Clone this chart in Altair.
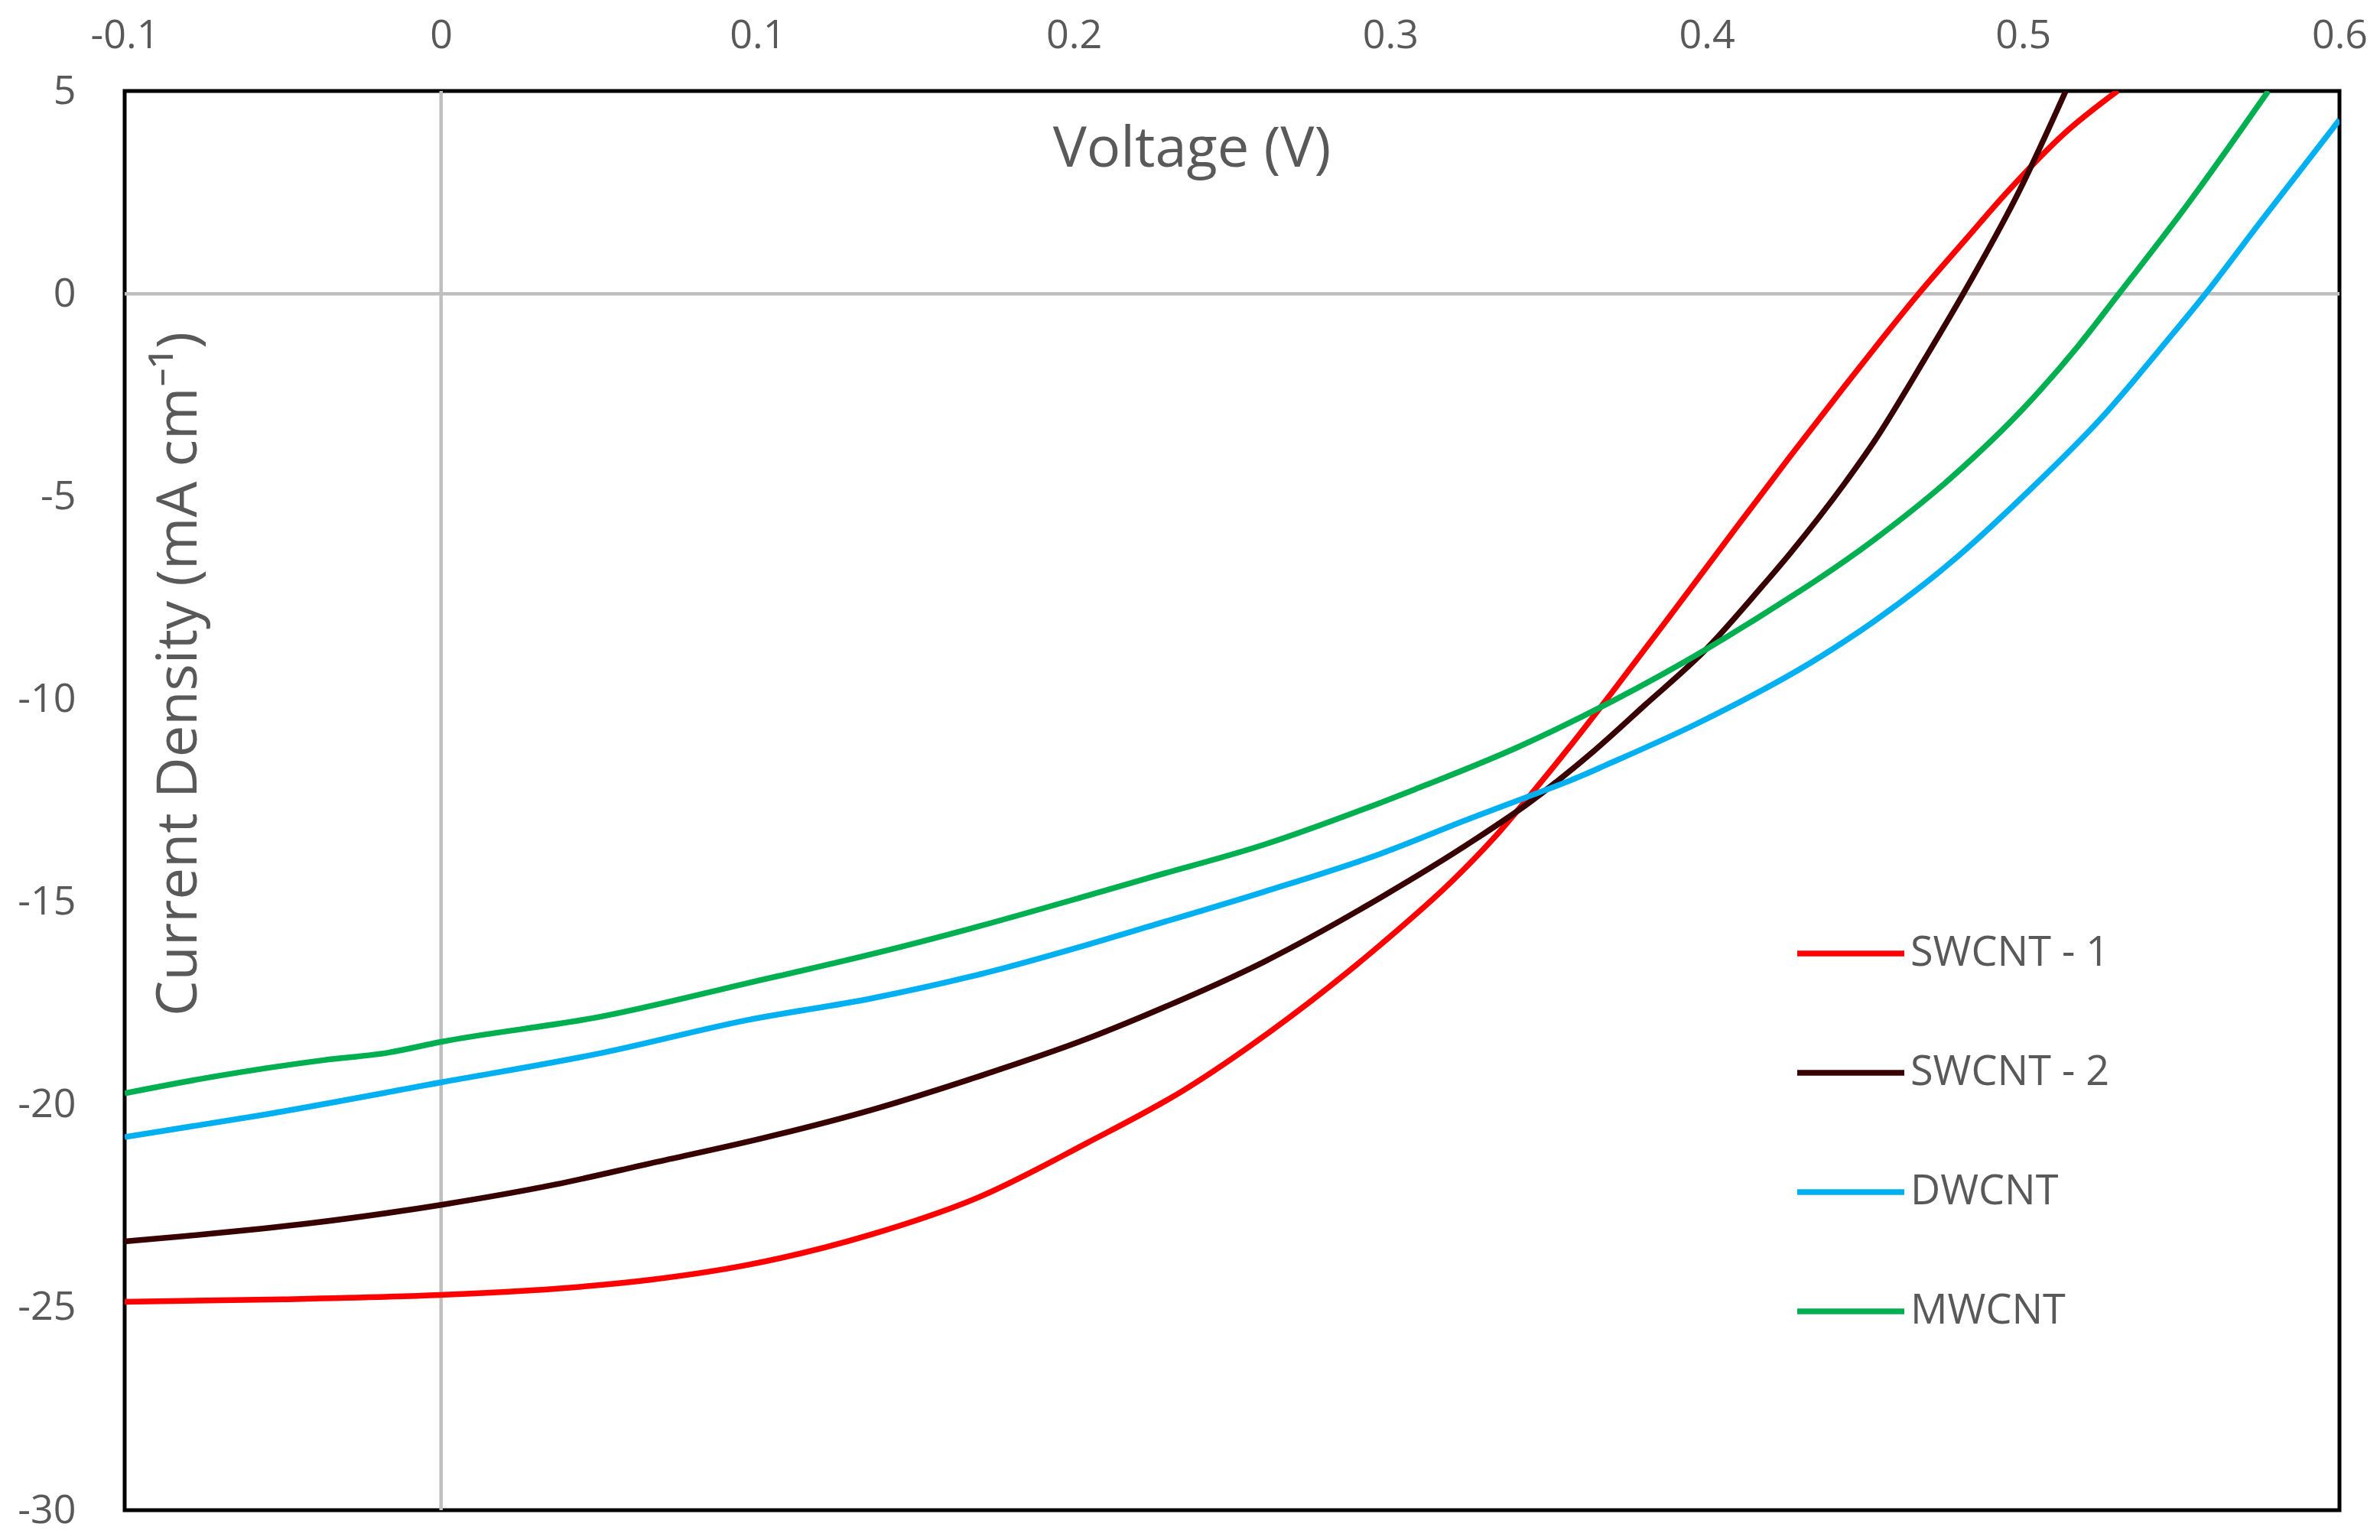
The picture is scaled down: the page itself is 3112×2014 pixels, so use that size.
import altair as alt
import pandas as pd

# ---- data (Voltage V, Current density mA cm^-1) ----
series_names = ["SWCNT - 1", "SWCNT - 2", "DWCNT", "MWCNT"]
series_colors = ["#FF0000", "#380000", "#00B0F0", "#00B050"]

sw1_v = [-0.1, -0.05, 0.0, 0.036, 0.066, 0.097, 0.136, 0.170, 0.204, 0.235, 0.262,
         0.297, 0.320, 0.333, 0.346, 0.356, 0.370, 0.388, 0.405, 0.4264, 0.4434,
         0.4531, 0.467, 0.482, 0.4943, 0.513, 0.530]
sw1_j = [-24.86, -24.80, -24.69, -24.54, -24.32, -23.95, -23.20, -22.28, -20.95, -19.63,
         -18.20, -16.05, -14.45, -13.40, -12.20, -11.24, -9.84, -7.99, -6.22, -4.01,
         -2.30, -1.34, 0.00, 1.35, 2.45, 3.95, 5.01]

sw2_v = [-0.1, -0.041, 0.0, 0.036, 0.066, 0.102, 0.136, 0.170, 0.204, 0.223, 0.260,
         0.297, 0.3264, 0.3441, 0.3643, 0.3804, 0.3998, 0.4166, 0.4264, 0.4434, 0.4529,
         0.469, 0.4811, 0.4989, 0.5135]
sw2_j = [-23.37, -22.92, -22.47, -21.97, -21.45, -20.82, -20.13, -19.30, -18.38, -17.78,
         -16.48, -14.89, -13.48, -12.54, -11.28, -10.15, -8.77, -7.30, -6.40, -4.70,
         -3.65, -1.60, 0.00, 2.55, 5.00]

dw_v = [-0.1, -0.057, 0.0, 0.051, 0.097, 0.136, 0.170, 0.204, 0.223, 0.260, 0.297,
        0.325, 0.343, 0.3586, 0.368, 0.397, 0.436, 0.4529, 0.4771, 0.5013, 0.5255,
        0.5456, 0.5577, 0.5745, 0.6]
dw_j = [-20.80, -20.26, -19.45, -18.72, -17.91, -17.38, -16.79, -16.06, -15.62, -14.75,
        -13.81, -12.95, -12.42, -11.95, -11.63, -10.60, -8.95, -8.08, -6.63, -4.90,
        -3.00, -1.15, 0.00, 1.72, 4.29]

mw_v = [-0.1, -0.072, -0.037, -0.017, 0.0, 0.051, 0.097, 0.136, 0.170, 0.204, 0.223,
        0.260, 0.297, 0.3079, 0.3401, 0.3699, 0.3998, 0.417, 0.4529, 0.4771, 0.5013,
        0.5174, 0.5303, 0.551, 0.5775]
mw_j = [-19.72, -19.31, -18.90, -18.72, -18.45, -17.82, -17.00, -16.29, -15.60, -14.85,
        -14.42, -13.59, -12.55, -12.22, -11.19, -10.06, -8.77, -7.95, -6.07, -4.55,
        -2.73, -1.29, 0.00, 2.10, 5.00]

x_ticks = [-0.1, 0.0, 0.1, 0.2, 0.3, 0.4, 0.5, 0.6]
y_ticks = [5, 0, -5, -10, -15, -20, -25, -30]
zero_x = [0.0]
zero_y = [0.0]

frames = []
for name, v, j in [(series_names[0], sw1_v, sw1_j), (series_names[1], sw2_v, sw2_j),
                   (series_names[2], dw_v, dw_j), (series_names[3], mw_v, mw_j)]:
    frames.append(pd.DataFrame({"V": v, "J": j, "series": name, "order": range(len(v))}))
df = pd.concat(frames, ignore_index=True)

GRAY_TXT = "#595959"
HYPHEN = "replace(datum.label, '\u2212', '-')"

x_scale = alt.Scale(domain=[-0.1, 0.6], nice=False, zero=False)
y_scale = alt.Scale(domain=[-30, 5], nice=False, zero=False)

x_axis = alt.Axis(
    orient="top", values=x_ticks, format=".1~f", labelExpr=HYPHEN,
    grid=False, ticks=False, tickSize=0, domain=False,
    labelFontSize=52, labelColor=GRAY_TXT, labelPadding=46,
    labelFlush=False, labelOverlap=False,
    title="Voltage (V)", titleFontSize=74, titleFontWeight="normal", titleColor=GRAY_TXT,
    titleX=1395, titleY=76, titleBaseline="middle", titleAlign="center",
)
y_axis = alt.Axis(
    values=y_ticks, format="d", labelExpr=HYPHEN,
    grid=False, ticks=False, tickSize=0, domain=False,
    labelFontSize=52, labelColor=GRAY_TXT, labelPadding=64, labelFlush=False,
    labelOverlap=False,
    title="Current Density (mA cm⁻¹)", titleFontSize=74, titleFontWeight="normal",
    titleColor=GRAY_TXT, titleAngle=270, titleX=71, titleY=762,
    titleBaseline="middle", titleAlign="center",
)

zx = alt.Chart(pd.DataFrame({"V": zero_x})).mark_rule(color="#BFBFBF", strokeWidth=4.5).encode(
    x=alt.X("V:Q", scale=x_scale, axis=x_axis)
)
zy = alt.Chart(pd.DataFrame({"J": zero_y})).mark_rule(color="#BFBFBF", strokeWidth=4.5).encode(
    y=alt.Y("J:Q", scale=y_scale, axis=y_axis)
)

lines = alt.Chart(df).mark_line(strokeWidth=7.5, interpolate="monotone", clip=True).encode(
    x=alt.X("V:Q", scale=x_scale, axis=x_axis),
    y=alt.Y("J:Q", scale=y_scale, axis=y_axis),
    color=alt.Color(
        "series:N",
        scale=alt.Scale(domain=series_names, range=series_colors),
        sort=series_names,
        legend=alt.Legend(
            title=None, orient="none", legendX=2183, legendY=1054,
            symbolType="stroke", symbolSize=19600, symbolStrokeWidth=7.5,
            labelFontSize=54, labelColor=GRAY_TXT, labelOffset=4, labelLimit=0,
            rowPadding=55, padding=0, direction="vertical",
        ),
    ),
    order="order:Q",
)

chart = (
    alt.layer(zx, zy, lines)
    .properties(
        width=2896, height=1856,
        autosize=alt.AutoSizeParams(type="none"),
        padding={"left": 155, "top": 111, "right": 45, "bottom": 31},
        background="white",
    )
    .configure(font="Open Sans")
    .configure_view(stroke="#000000", strokeWidth=5)
)

chart.save("out.html", embed_options={"renderer": "svg", "actions": False})
